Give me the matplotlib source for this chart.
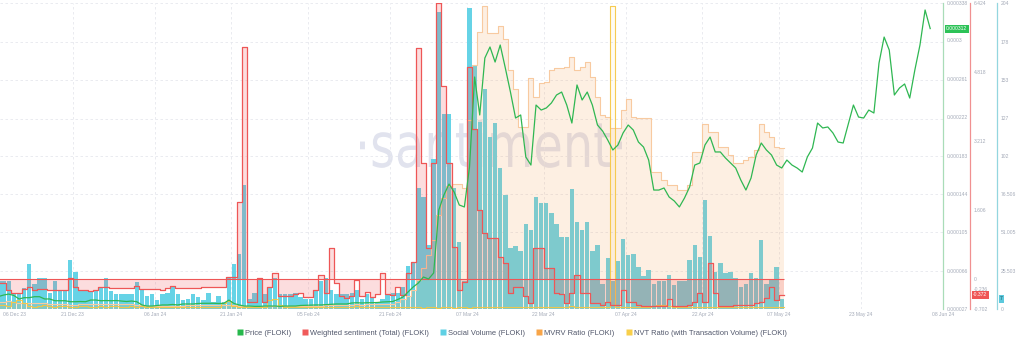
import numpy as np
import pandas as pd
import matplotlib
matplotlib.use("Agg")
import matplotlib.pyplot as plt
import matplotlib.dates as mdates
import matplotlib.transforms as mtransforms
from matplotlib.lines import Line2D
from matplotlib.textpath import TextPath
from matplotlib.patches import PathPatch
from matplotlib.font_manager import FontProperties

plt.rcParams["font.family"] = ["Liberation Sans", "DejaVu Sans"]

# ---------------------------------------------------------------- data
start_date = "2023-12-06"

# daily social volume (mentions)
social_volume = [
    19, 19, 19, 11, 11, 14, 30, 17, 21, 21,
    11, 19, 13, 13, 33, 25, 12, 12, 12, 12,
    14, 21, 12, 10, 10, 10, 10, 18, 13, 9,
    10, 6, 10, 11, 15, 10, 6, 7, 10, 8,
    6, 11, 5, 9, 5, 21, 30, 37, 83, 7,
    11, 20, 10, 15, 21, 10, 10, 10, 11, 8,
    7, 7, 13, 19, 21, 13, 10, 10, 10, 11,
    13, 7, 10, 8, 5, 7, 10, 11, 11, 15,
    29, 31, 81, 75, 43, 100, 198, 130, 130, 81,
    45, 19, 201, 163, 125, 147, 115, 124, 94, 76,
    41, 42, 39, 57, 53, 75, 71, 71, 64, 57,
    48, 48, 80, 58, 53, 58, 39, 43, 17, 34,
    19, 32, 47, 36, 37, 28, 22, 26, 17, 19,
    19, 23, 16, 19, 19, 33, 43, 35, 73, 49,
    25, 31, 24, 25, 21, 15, 17, 24, 21, 46,
    17, 20, 28, 7,
]

# daily weighted sentiment (total)
weighted_sentiment = [
    -0.09, -0.09, -0.26, -0.32, -0.32, -0.24, -0.19, -0.27, -0.24, -0.24,
    -0.25, -0.26, -0.26, -0.26, 0.03, -0.18, -0.27, -0.27, -0.28, -0.27,
    -0.2, -0.18, -0.22, -0.22, -0.21, -0.22, -0.22, -0.16, -0.23, -0.24,
    -0.24, -0.24, -0.25, -0.22, -0.16, -0.22, -0.22, -0.22, -0.21, -0.21,
    -0.2, -0.2, -0.2, -0.19, -0.19, 0.05, 0.05, 1.8, 5.41, -0.53,
    -0.53, 0.02, -0.53, -0.18, 0.14, -0.4, -0.4, -0.4, -0.35, -0.33,
    -0.43, -0.43, -0.27, 0.09, -0.33, 0.72, -0.1, -0.4, -0.45, -0.4,
    -0.02, -0.4, -0.3, -0.43, -0.35, 0.14, -0.35, -0.38, -0.2, -0.38,
    0.14, 0.4, 5.38, 2.7, 0.72, 2.7, 6.424, 4.5, 2.7, 0.75,
    -0.26, -0.07, 4.94, 3.5, 1.6, 1.07, 0.95, 0.95, 0.52, 0.37,
    -0.33, -0.2, -0.2, -0.41, -0.57, 0.72, 0.72, 0.25, 0.25, -0.33,
    -0.36, -0.57, -0.33, 0.09, -0.33, -0.33, -0.57, -0.57, -0.6, -0.53,
    -0.6, -0.6, -0.26, -0.53, -0.53, -0.6, -0.63, -0.63, -0.63, -0.63,
    -0.63, -0.47, -0.63, -0.63, -0.63, -0.6, -0.53, -0.33, -0.53, 0.37,
    -0.33, -0.63, -0.63, -0.63, -0.6, -0.6, -0.6, -0.6, -0.57, -0.53,
    -0.45, -0.18, -0.5, -0.372,
]

# daily MVRV ratio
mvrv_ratio = [
    0.548, 0.552, 0.556, 0.55, 0.54, 0.543, 0.545, 0.544, 0.546, 0.54,
    0.538, 0.535, 0.533, 0.534, 0.532, 0.531, 0.533, 0.534, 0.535, 0.536,
    0.535, 0.536, 0.535, 0.534, 0.535, 0.534, 0.533, 0.532, 0.528, 0.525,
    0.522, 0.523, 0.524, 0.524, 0.525, 0.524, 0.525, 0.526, 0.526, 0.527,
    0.527, 0.527, 0.527, 0.527, 0.527, 0.531, 0.527, 0.524, 0.522, 0.522,
    0.521, 0.521, 0.522, 0.522, 0.522, 0.521, 0.522, 0.522, 0.522, 0.523,
    0.524, 0.525, 0.525, 0.525, 0.526, 0.527, 0.529, 0.529, 0.529, 0.532,
    0.533, 0.532, 0.533, 0.533, 0.534, 0.536, 0.537, 0.538, 0.55, 0.572,
    0.593, 0.637, 0.709, 0.795, 0.888, 0.996, 1.176, 1.298, 1.384, 1.399,
    1.399, 1.37, 1.859, 2.254, 2.492, 2.679, 2.484, 2.484, 2.535, 2.441,
    2.218, 2.082, 1.809, 1.809, 2.161, 2.024, 2.125, 2.132, 2.218, 2.233,
    2.233, 2.24, 2.312, 2.218, 2.24, 2.276, 2.168, 2.024, 1.895, 1.88,
    1.801, 1.801, 1.931, 2.01, 1.88, 1.873, 1.873, 1.873, 1.485, 1.485,
    1.428, 1.392, 1.392, 1.356, 1.356, 1.392, 1.629, 1.629, 1.83, 1.773,
    1.773, 1.665, 1.665, 1.607, 1.55, 1.55, 1.571, 1.593, 1.643, 1.83,
    1.773, 1.737, 1.665, 1.658,
]

# daily NVT ratio (with transaction volume)
nvt_ratio = [
    12, 14, 10, 22, 28, 18, 10, 8, 9, 12,
    10, 8, 9, 11, 7, 8, 9, 10, 8, 7,
    9, 8, 10, 9, 8, 7, 9, 8, 10, 6,
    5, 6, 7, 6, 8, 7, 6, 5, 7, 6,
    5, 6, 7, 6, 20, 26, 9, 6, 5, 7,
    6, 8, 6, 30, 34, 12, 7, 6, 8, 7,
    6, 5, 6, 7, 6, 8, 7, 5, 6, 7,
    9, 6, 7, 8, 6, 5, 7, 8, 6, 7,
    6, 8, 5, 4, 6, 5, 4, 5, 6, 4,
    5, 6, 4, 5, 6, 5, 7, 6, 5, 6,
    8, 7, 6, 5, 7, 6, 5, 6, 8, 7,
    6, 5, 9, 7, 6, 8, 7, 6, 5, 7,
    990, 8, 6, 7, 5, 6, 6, 7, 10, 14,
    12, 9, 8, 7, 6, 8, 7, 6, 5, 7,
    6, 8, 7, 6, 5, 6, 7, 6, 5, 6,
    7, 6, 5, 6,
]

# daily FLOKI price, USD
price = [
    39.7e-6, 41.2e-6, 42.2e-6, 40.7e-6, 37.2e-6, 38.5e-6, 38.5e-6, 39.5e-6, 39.5e-6, 37.2e-6,
    37.2e-6, 35.4e-6, 35.4e-6, 35.4e-6, 34.4e-6, 34.4e-6, 34.6e-6, 34.4e-6, 36.1e-6, 36.1e-6,
    35.4e-6, 35.6e-6, 35.4e-6, 35.6e-6, 35.1e-6, 34.6e-6, 35.1e-6, 34.4e-6, 31.1e-6, 30.0e-6,
    30.0e-6, 30.6e-6, 31.1e-6, 31.1e-6, 31.6e-6, 31.1e-6, 32.1e-6, 32.1e-6, 32.1e-6, 32.6e-6,
    32.8e-6, 32.8e-6, 32.8e-6, 32.6e-6, 32.8e-6, 36.1e-6, 32.6e-6, 31.1e-6, 30.0e-6, 30.0e-6,
    29.7e-6, 29.7e-6, 30.0e-6, 30.0e-6, 30.0e-6, 29.7e-6, 30.0e-6, 30.0e-6, 30.0e-6, 30.6e-6,
    30.8e-6, 31.1e-6, 31.1e-6, 31.1e-6, 31.4e-6, 31.6e-6, 32.1e-6, 32.1e-6, 32.1e-6, 33.1e-6,
    33.4e-6, 33.1e-6, 33.4e-6, 33.4e-6, 33.6e-6, 34.1e-6, 34.4e-6, 34.6e-6, 36.7e-6, 39.2e-6,
    44.3e-6, 49.4e-6, 53.4e-6, 59.5e-6, 57.5e-6, 63.6e-6, 127.6e-6, 142.9e-6, 154.0e-6, 145.9e-6,
    132.7e-6, 130.7e-6, 171.3e-6, 262.8e-6, 224.2e-6, 282.1e-6, 293.3e-6, 278.0e-6, 295.3e-6, 271.9e-6,
    247.5e-6, 221.1e-6, 224.2e-6, 181.5e-6, 173.3e-6, 234.3e-6, 229.2e-6, 231.3e-6, 236.4e-6, 244.5e-6,
    247.5e-6, 234.3e-6, 216.0e-6, 254.7e-6, 239.4e-6, 247.5e-6, 234.3e-6, 214.0e-6, 207.9e-6, 198.8e-6,
    188.6e-6, 193.7e-6, 205.9e-6, 214.0e-6, 208.9e-6, 196.7e-6, 191.6e-6, 178.4e-6, 147.9e-6, 147.9e-6,
    150.0e-6, 140.8e-6, 136.8e-6, 130.7e-6, 139.8e-6, 151.0e-6, 173.3e-6, 175.4e-6, 193.7e-6, 201.8e-6,
    186.6e-6, 186.6e-6, 180.5e-6, 175.4e-6, 170.3e-6, 158.1e-6, 147.9e-6, 160.1e-6, 183.5e-6, 195.7e-6,
    188.6e-6, 183.5e-6, 173.3e-6, 170.3e-6, 178.4e-6, 173.3e-6, 170.3e-6, 166.2e-6, 181.5e-6, 190.6e-6,
    216.0e-6, 211.0e-6, 212.0e-6, 205.9e-6, 196.7e-6, 195.7e-6, 215.0e-6, 234.3e-6, 222.1e-6, 221.1e-6,
    229.2e-6, 226.2e-6, 277.0e-6, 303.4e-6, 290.2e-6, 244.5e-6, 251.6e-6, 255.7e-6, 241.4e-6, 269.9e-6,
    295.3e-6, 330.9e-6, 312.0e-6,
]

tick_dates = ["2023-12-06", "2023-12-21", "2024-01-06", "2024-01-21", "2024-02-05",
              "2024-02-21", "2024-03-07", "2024-03-22", "2024-04-07", "2024-04-22",
              "2024-05-07", "2024-05-23", "2024-06-08"]
tick_labels = ["06 Dec 23", "21 Dec 23", "06 Jan 24", "21 Jan 24", "05 Feb 24",
               "21 Feb 24", "07 Mar 24", "22 Mar 24", "07 Apr 24", "22 Apr 24",
               "07 May 24", "23 May 24", "08 Jun 24"]

price_ticks = [0.000027, 0.000066, 0.000105, 0.000144, 0.000183,
               0.000222, 0.000261, 0.0003, 0.000338]
price_tick_labels = ["0.000027", "0.000066", "0.000105", "0.000144", "0.000183",
                     "0.000222", "0.000261", "0.0003", "0.000338"]
sentiment_ticks = [-0.702, -0.236, 0, 1.606, 3.212, 4.818, 6.424]
sentiment_tick_labels = ["-0.702", "-0.236", "0", "1.606", "3.212", "4.818", "6.424"]
social_ticks = [0, 25.503, 51.005, 76.506, 102, 127, 153, 178, 204]
social_tick_labels = ["0", "25.503", "51.005", "76.506", "102", "127", "153", "178", "204"]

legend_labels = ["Price (FLOKI)", "Weighted sentiment (Total) (FLOKI)",
                 "Social Volume (FLOKI)", "MVRV Ratio (FLOKI)",
                 "NVT Ratio (with Transaction Volume) (FLOKI)"]

# ---------------------------------------------------------------- style
C_PRICE = "#2fb752"
C_SENT = "#ee5656"
C_SOCIAL = "#66d3e6"
C_MVRV = "#f7a155"
C_NVT = "#f6c640"
C_TICK = "#a4aab8"
TICK_FS = 3.6

W, H = 1024, 347
fig = plt.figure(figsize=(W / 100, H / 100), dpi=100)
fig.patch.set_facecolor("white")
rect = [0, 38 / H, 943 / W, 306 / H]

days = pd.date_range(start_date, periods=len(social_volume), freq="D")
x = mdates.date2num(days)
x_edges = np.append(x, x[-1] + 1)


def ext(v):
    v = np.asarray(v, dtype=float)
    return np.append(v, v[-1])


price_days = pd.date_range(start_date, periods=len(price), freq="D")
x_price = mdates.date2num(price_days) + 0.5
x0 = mdates.date2num(pd.Timestamp(start_date))
xlim = (x0 + 4 / 5.12, x0 + 185)

# ---------------------------------------------------------------- watermark
fp = FontProperties(family="DejaVu Sans")
tp = TextPath((0, 0), "\u00b7santiment\u00b7", size=1, prop=fp)
xh = TextPath((0, 0), "x", size=1, prop=fp).get_extents().height
bb = tp.get_extents()
sx = 262 / bb.width
sy = 34 / xh
wm_tr = (mtransforms.Affine2D().translate(-bb.x0, 0).scale(sx, sy)
         .translate(360, H - 167))
wm = PathPatch(wm_tr.transform_path(tp), transform=mtransforms.IdentityTransform(),
               facecolor="#e1e3ee", edgecolor="none", zorder=-5)
fig.add_artist(wm)

# ---------------------------------------------------------------- axes
ax_sv = fig.add_axes(rect)
ax_mvrv = fig.add_axes(rect, sharex=ax_sv)
ax_nvt = fig.add_axes(rect, sharex=ax_sv)
ax_sent = fig.add_axes(rect, sharex=ax_sv)
ax_price = fig.add_axes(rect, sharex=ax_sv)

for a in (ax_sv, ax_mvrv, ax_nvt, ax_sent, ax_price):
    a.patch.set_visible(False)
    for s in a.spines.values():
        s.set_visible(False)
for a in (ax_mvrv, ax_nvt, ax_sent, ax_price):
    a.xaxis.set_visible(False)
for a in (ax_mvrv, ax_nvt):
    a.set_yticks([])

# social volume bars
ax_sv.bar(x + 0.07, social_volume, width=0.86, align="edge", color=C_SOCIAL,
          linewidth=0, zorder=2)
ax_sv.set_ylim(0, 204)
ax_sv.set_xlim(*xlim)
tick_nums = mdates.date2num(pd.to_datetime(tick_dates))
ax_sv.set_xticks(tick_nums[1:], labels=tick_labels[1:])
ax_sv.set_yticks(social_ticks, labels=social_tick_labels)
ax_sv.yaxis.tick_right()
ax_sv.spines["right"].set_visible(True)
ax_sv.spines["right"].set_position(("axes", 997 / 943))
ax_sv.spines["right"].set_color("#93d6df")
ax_sv.spines["right"].set_linewidth(0.9)
ax_sv.tick_params(axis="both", length=0, labelsize=TICK_FS, labelcolor=C_TICK)
ax_sv.tick_params(axis="x", pad=2.2)
ax_sv.tick_params(axis="y", pad=2.6)
ax_sv.grid(True, color="#e6e8ee", linewidth=0.6, linestyle=(0, (3, 3)))
ax_sv.set_axisbelow(True)
fig.text(3 / W, 1 - 314 / H, tick_labels[0], ha="left", va="center",
         fontsize=TICK_FS, color=C_TICK)

# MVRV ratio area
ax_mvrv.fill_between(x_edges, 0.5, ext(mvrv_ratio), step="post", color=C_MVRV,
                     alpha=0.17, linewidth=0)
ax_mvrv.step(x_edges, ext(mvrv_ratio), where="post", color="#f8caa0", linewidth=0.8)
ax_mvrv.set_ylim(0.5, 2.7)

# NVT ratio
ax_nvt.fill_between(x_edges, 0, ext(nvt_ratio), step="post", color=C_NVT,
                    alpha=0.06, linewidth=0)
ax_nvt.step(x_edges, ext(nvt_ratio), where="post", color=C_NVT, linewidth=0.8,
            alpha=0.9)
ax_nvt.set_ylim(0, 1000)

# weighted sentiment
ax_sent.fill_between(x_edges, 0, ext(weighted_sentiment), step="post", color="#f0585a",
                     alpha=0.2, linewidth=0)
ax_sent.step(x_edges, ext(weighted_sentiment), where="post", color=C_SENT, linewidth=0.9)
ax_sent.hlines(0, x_edges[0], x_edges[-1], color=C_SENT, linewidth=0.8)
ax_sent.set_ylim(sentiment_ticks[0], sentiment_ticks[-1])
ax_sent.set_yticks(sentiment_ticks, labels=sentiment_tick_labels)
ax_sent.yaxis.tick_right()
ax_sent.spines["right"].set_visible(True)
ax_sent.spines["right"].set_position(("axes", 970 / 943))
ax_sent.spines["right"].set_color("#f09090")
ax_sent.spines["right"].set_linewidth(0.9)
ax_sent.tick_params(axis="y", length=0, pad=2.6, labelsize=TICK_FS, labelcolor=C_TICK)

# price
ax_price.plot(x_price, price, color=C_PRICE, linewidth=0.9, zorder=5)
ax_price.set_ylim(price_ticks[0], price_ticks[-1])
ax_price.set_yticks(price_ticks, labels=price_tick_labels)
ax_price.yaxis.tick_right()
ax_price.spines["right"].set_visible(True)
ax_price.spines["right"].set_color("#a9dcb8")
ax_price.spines["right"].set_linewidth(0.9)
ax_price.tick_params(axis="y", length=0, pad=2.6, labelsize=TICK_FS, labelcolor=C_TICK)

# latest-value badges on the axes
box_kw = dict(boxstyle="square,pad=0.3", edgecolor="none")
ax_price.text(1.0 + 3 / 943, price[-1], f"{price[-1]:.6f}",
              transform=mtransforms.blended_transform_factory(ax_price.transAxes,
                                                              ax_price.transData),
              ha="left", va="center", fontsize=TICK_FS, color="white", zorder=10,
              bbox=dict(facecolor="#2cc257", **box_kw), clip_on=False)
ax_sent.text(970 / 943 + 3 / 943, weighted_sentiment[-1], f"{weighted_sentiment[-1]:.3f}",
             transform=mtransforms.blended_transform_factory(ax_sent.transAxes,
                                                             ax_sent.transData),
             ha="left", va="center", fontsize=TICK_FS, color="white", zorder=10,
             bbox=dict(facecolor="#ef5656", **box_kw), clip_on=False)
ax_sv.text(997 / 943 + 3 / 943, social_volume[-1], f"{social_volume[-1]}",
           transform=mtransforms.blended_transform_factory(ax_sv.transAxes,
                                                           ax_sv.transData),
           ha="left", va="center", fontsize=TICK_FS, color="#1e4a55", zorder=10,
           bbox=dict(facecolor="#5cc9dd", **box_kw), clip_on=False)

# legend
legend_colors = ["#27b84c", "#f05a5a", "#5fd0e4", "#f8a548", "#f8cf4a"]
handles = [Line2D([], [], marker="s", linestyle="none", markersize=4.2,
                  markerfacecolor=c, markeredgecolor="none") for c in legend_colors]
fig.legend(handles, legend_labels, loc="center", bbox_to_anchor=(512 / W, 1 - 333 / H),
           ncol=5, frameon=False, fontsize=5.4, handlelength=0.6, handletextpad=0.35,
           columnspacing=1.6, labelcolor="#50566a", borderaxespad=0, borderpad=0)

fig.savefig("out.png", dpi=100, facecolor="white")
